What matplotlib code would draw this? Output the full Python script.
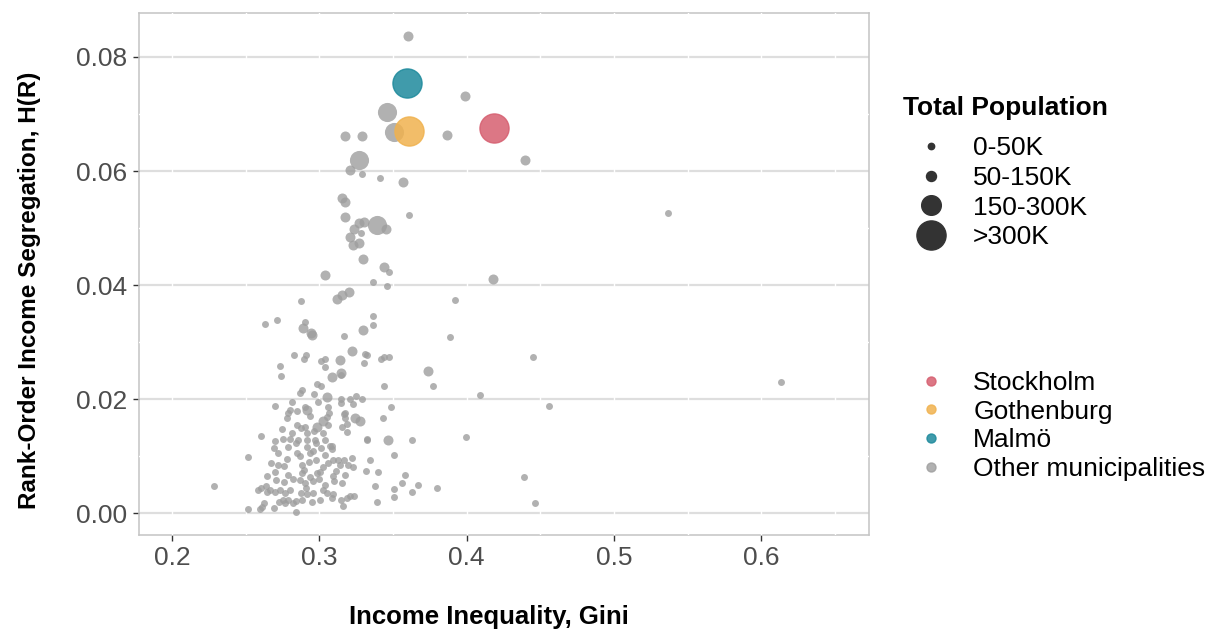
import matplotlib
matplotlib.use('Agg')
from matplotlib import pyplot as plt
from matplotlib.lines import Line2D

plt.rcParams['font.family'] = ['Liberation Sans', 'DejaVu Sans']

# three big cities
cities = ['Stockholm', 'Gothenburg', 'Malmö']
city_gini = [0.4183, 0.3606, 0.3593]
city_seg = [0.0676, 0.0671, 0.0754]
city_col = ['#D65F70', '#F0B24F', '#1E8A9C']

# other municipalities, split by population class
gini_large = [0.3461, 0.3509, 0.3267, 0.3391]
seg_large = [0.0703, 0.0669, 0.0620, 0.0506]

gini_med = [0.3602, 0.3988, 0.3868, 0.3176, 0.3287, 0.3206, 0.3568, 0.4396, 0.3156, 0.3176,
            0.3174, 0.3452, 0.3269, 0.3303, 0.3235, 0.3208, 0.3267, 0.3226, 0.3296, 0.3441,
            0.3040, 0.4181, 0.3199, 0.3154, 0.3122, 0.3294, 0.2891, 0.2952, 0.2941, 0.3222,
            0.3140, 0.3149, 0.3735, 0.3084, 0.3052, 0.3240, 0.3276, 0.2918, 0.3023, 0.2982,
            0.3468]
seg_med = [0.0836, 0.0732, 0.0663, 0.0661, 0.0662, 0.0601, 0.0580, 0.0620, 0.0553, 0.0545,
           0.0519, 0.0499, 0.0509, 0.0510, 0.0499, 0.0484, 0.0473, 0.0470, 0.0445, 0.0432,
           0.0417, 0.0410, 0.0388, 0.0383, 0.0376, 0.0321, 0.0325, 0.0313, 0.0316, 0.0285,
           0.0269, 0.0246, 0.0249, 0.0239, 0.0204, 0.0167, 0.0162, 0.0181, 0.0162, 0.0152,
           0.0128]

gini_small = [0.3287, 0.3414, 0.3606, 0.3283, 0.3471, 0.3366, 0.3459, 0.2873, 0.3923, 0.3889,
              0.4452, 0.3773, 0.4088, 0.6133, 0.4559, 0.3629, 0.3993, 0.3583, 0.3559, 0.3672,
              0.3629, 0.3796, 0.4391, 0.4461, 0.5366, 0.2285, 0.3366, 0.3366, 0.3169, 0.3310,
              0.3321, 0.3301, 0.3416, 0.3439, 0.3475, 0.3437, 0.3249, 0.3208, 0.3290, 0.3149,
              0.3230, 0.3488, 0.3167, 0.3172, 0.3186, 0.3152, 0.3186, 0.3434, 0.3324, 0.3509,
              0.3344, 0.3317, 0.3400, 0.3378, 0.3389, 0.3509, 0.3509, 0.3321,
              0.2629, 0.2711, 0.2903, 0.2826, 0.2909, 0.2896, 0.2733, 0.3013, 0.3036, 0.2738,
              0.2880, 0.2869, 0.2966, 0.2986, 0.3013, 0.3040, 0.3145, 0.2699, 0.2812, 0.2801,
              0.2789, 0.2778, 0.2903, 0.3061, 0.3063, 0.3050, 0.2964, 0.2903, 0.2846, 0.2817,
              0.2876, 0.2749, 0.2699, 0.2604, 0.2755, 0.2801, 0.2853, 0.2916, 0.2970, 0.3038,
              0.3027, 0.3089, 0.3145, 0.3174,
              0.2518, 0.2518, 0.2597, 0.2613, 0.2692, 0.2842, 0.2672, 0.2722, 0.2760, 0.2643,
              0.2699, 0.2706, 0.2787, 0.2582, 0.2604, 0.2643, 0.2665, 0.2699, 0.2733, 0.2767,
              0.2801, 0.2638, 0.2625, 0.2724, 0.2751, 0.2767, 0.2787, 0.2821, 0.2842, 0.2722,
              0.2692, 0.2780, 0.2787, 0.2842, 0.2869, 0.2914, 0.2896, 0.2869, 0.2910, 0.2873,
              0.3224, 0.3231, 0.3170, 0.3174, 0.3093, 0.3099, 0.3156, 0.3038, 0.3027, 0.3049,
              0.3093, 0.3150, 0.3161, 0.3185, 0.3208, 0.3237, 0.3004, 0.3083, 0.2959, 0.2914,
              0.2880, 0.2977, 0.2937, 0.3038, 0.3072, 0.3086, 0.2977, 0.2914, 0.2982, 0.2937,
              0.2903, 0.2957, 0.3004, 0.3025, 0.3059, 0.3093, 0.3127, 0.3140, 0.3194, 0.2882,
              0.2850, 0.2930, 0.2960, 0.3010, 0.2880, 0.2820, 0.2760, 0.2950, 0.3000, 0.3110,
              0.3060, 0.2940, 0.2850, 0.2990]
seg_small = [0.0594, 0.0587, 0.0523, 0.0492, 0.0423, 0.0405, 0.0398, 0.0372, 0.0374, 0.0309,
             0.0274, 0.0224, 0.0207, 0.0230, 0.0188, 0.0128, 0.0133, 0.0068, 0.0053, 0.0050,
             0.0038, 0.0045, 0.0064, 0.0018, 0.0526, 0.0048, 0.0346, 0.0330, 0.0311, 0.0279,
             0.0277, 0.0264, 0.0270, 0.0274, 0.0274, 0.0223, 0.0206, 0.0200, 0.0201, 0.0193,
             0.0192, 0.0186, 0.0174, 0.0167, 0.0157, 0.0152, 0.0143, 0.0167, 0.0131, 0.0103,
             0.0094, 0.0075, 0.0073, 0.0047, 0.0020, 0.0043, 0.0029, 0.0129,
             0.0332, 0.0338, 0.0335, 0.0278, 0.0278, 0.0271, 0.0258, 0.0267, 0.0270, 0.0241,
             0.0216, 0.0211, 0.0209, 0.0227, 0.0223, 0.0256, 0.0243, 0.0188, 0.0196, 0.0181,
             0.0176, 0.0167, 0.0187, 0.0187, 0.0176, 0.0169, 0.0144, 0.0151, 0.0155, 0.0141,
             0.0149, 0.0148, 0.0126, 0.0135, 0.0130, 0.0130, 0.0129, 0.0141, 0.0129, 0.0129,
             0.0140, 0.0118, 0.0200, 0.0176,
             0.0098, 0.0008, 0.0008, 0.0011, 0.0009, 0.0003, 0.0089, 0.0085, 0.0083, 0.0065,
             0.0072, 0.0059, 0.0068, 0.0041, 0.0044, 0.0038, 0.0041, 0.0037, 0.0040, 0.0035,
             0.0041, 0.0048, 0.0018, 0.0019, 0.0024, 0.0018, 0.0024, 0.0018, 0.0021, 0.0106,
             0.0115, 0.0095, 0.0117, 0.0123, 0.0100, 0.0117, 0.0076, 0.0059, 0.0045, 0.0036,
             0.0097, 0.0082, 0.0094, 0.0068, 0.0066, 0.0056, 0.0053, 0.0050, 0.0041, 0.0036,
             0.0033, 0.0024, 0.0012, 0.0027, 0.0030, 0.0031, 0.0024, 0.0027, 0.0036, 0.0033,
             0.0024, 0.0094, 0.0106, 0.0103, 0.0118, 0.0112, 0.0124, 0.0129, 0.0071, 0.0064,
             0.0054, 0.0056, 0.0073, 0.0082, 0.0088, 0.0093, 0.0094, 0.0085, 0.0085, 0.0071,
             0.0105, 0.0090, 0.0110, 0.0115, 0.0085, 0.0060, 0.0055, 0.0020, 0.0060, 0.0075,
             0.0155, 0.0170, 0.0180, 0.0195]

pop_labels = ['0-50K', '50-150K', '150-300K', '>300K']
pop_size = [25, 52, 190, 440]      # scatter area, pt^2
gray = '#9E9E9E'

fig = plt.figure(figsize=(12.12, 6.32), dpi=100)
ax = fig.add_axes([0.1143, 0.1535, 0.6024, 0.8259])

ax.scatter(gini_small, seg_small, s=pop_size[0], color=gray, alpha=0.8, lw=0, zorder=3)
ax.scatter(gini_med, seg_med, s=pop_size[1], color=gray, alpha=0.8, lw=0, zorder=3)
ax.scatter(gini_large, seg_large, s=pop_size[2], color=gray, alpha=0.8, lw=0, zorder=3)
for c, gx, sy, col in zip(cities, city_gini, city_seg, city_col):
    ax.scatter([gx], [sy], s=pop_size[3], color=col, alpha=0.85, edgecolor=col, lw=1, zorder=4)

ax.set_xlim(0.1773, 0.6728)
ax.set_ylim(-0.0038, 0.0877)
ax.set_xticks([0.2, 0.3, 0.4, 0.5, 0.6])
ax.set_xticklabels(['0.2', '0.3', '0.4', '0.5', '0.6'])
ax.set_yticks([0.0, 0.02, 0.04, 0.06, 0.08])
ax.set_yticklabels(['0.00', '0.02', '0.04', '0.06', '0.08'])

for yv in [0.0, 0.02, 0.04, 0.06, 0.08]:
    ax.axhline(yv, color='#DEDEDE', lw=1.6, zorder=1)
for yv in [0.01, 0.03, 0.05, 0.07]:
    ax.axhline(yv, color='white', lw=1, zorder=2.6)
for xv in [0.2, 0.25, 0.3, 0.35, 0.4, 0.45, 0.5, 0.55, 0.6, 0.65]:
    ax.axvline(xv, color='white', lw=1, zorder=2.6)

for s in ax.spines.values():
    s.set_color('#C4C4C4')
    s.set_linewidth(1.1)
ax.tick_params(labelsize=19, labelcolor='#4D4D4D', color='#333333', length=4, width=1, pad=4)

ax.set_xlabel('Income Inequality, Gini', fontsize=18.5, fontweight='bold', va='center')
ax.xaxis.set_label_coords(0.48, -0.157)
ax.set_ylabel('Rank-Order Income Segregation, H(R)', fontsize=17.5, fontweight='bold', va='center')
ax.yaxis.set_label_coords(-0.149, 0.468)

# legends
fig.text(903 / 1212, 1 - 108 / 632, 'Total Population', fontsize=19, fontweight='bold',
         ha='left', va='center')
size_handles = [Line2D([], [], ls='', marker='o', color='#333333', markersize=(s ** 0.5) * 1.0)
                for s in [21, 52, 200, 440]]
leg1 = ax.legend(size_handles, pop_labels, loc='upper left',
                 bbox_to_anchor=(0.7453, 1 - 136 / 632), bbox_transform=fig.transFigure,
                 frameon=False, fontsize=19, handlelength=2.1, handletextpad=0.55,
                 labelspacing=0.22, borderpad=0, borderaxespad=0)
ax.add_artist(leg1)

col_handles = [Line2D([], [], ls='', marker='o', color=c, alpha=0.85, markersize=6.5)
               for c in city_col] + [Line2D([], [], ls='', marker='o', color=gray, alpha=0.8, markersize=6.5)]
ax.legend(col_handles, cities + ['Other municipalities'], loc='upper left',
          bbox_to_anchor=(0.7453, 0.4133), bbox_transform=fig.transFigure,
          frameon=False, fontsize=19, handlelength=2.1, handletextpad=0.55,
          labelspacing=0.18, borderpad=0, borderaxespad=0)

plt.savefig('out.png', dpi=100)
